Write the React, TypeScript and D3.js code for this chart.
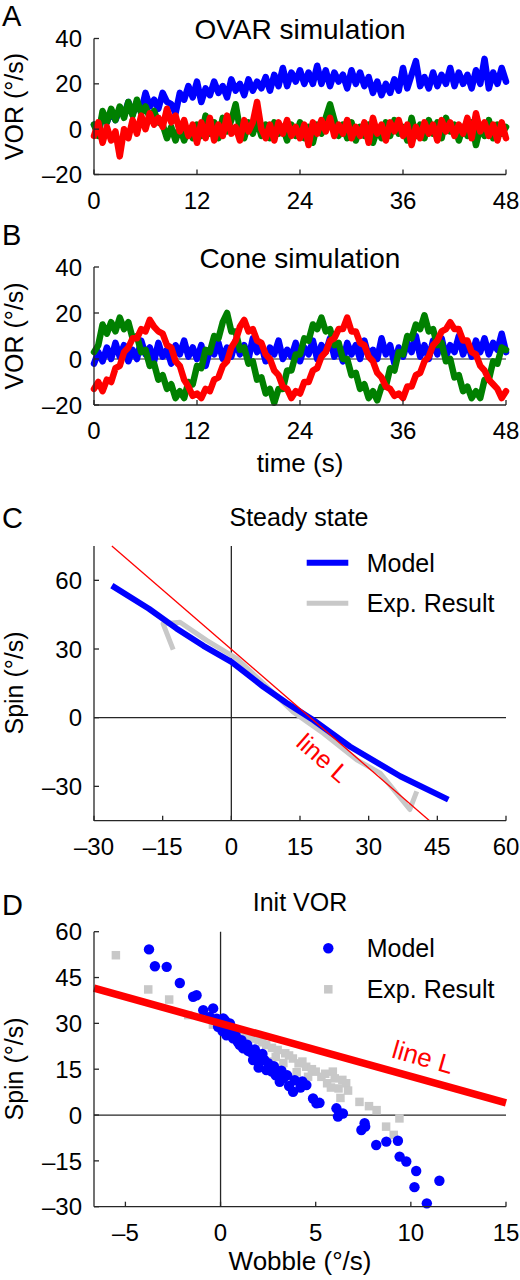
import React from "react";
import * as d3 from "d3";

const FONT = '"Liberation Sans", Arial, Helvetica, sans-serif';
const AXIS = "#262626";
const BLUE = "#0000ff";
const GREEN = "#008000";
const RED = "#ff0000";
const GREY = "#c8c8c8";

// ---------- Panels A & B : time series (one sample every 0.5 s, 0..48 s) ----------
const SAMPLE_STEP = 0.5;
const timeTicks = [0, 12, 24, 36, 48];
const vorTicks = [-20, 0, 20, 40];

const ovarBlue = [
  2, -1, 6, 3, 8, 4, 9, 6, 12, 7,
  10, 8, 16, 10, 13, 9, 16, 12, 11, 7,
  16, 13, 19, 14, 21, 12, 18, 15, 21, 16,
  19, 14, 22, 17, 20, 15, 22, 17, 21, 18,
  23, 17, 24, 19, 27, 19, 25, 21, 26, 20,
  25, 20, 28, 20, 26, 19, 25, 21, 24, 18,
  26, 20, 25, 19, 23, 16, 21, 15, 20, 16,
  22, 17, 27, 18, 24, 30, 19, 23, 18, 25,
  19, 24, 20, 27, 19, 25, 20, 24, 18, 26,
  20, 31, 18, 25, 20, 27, 21,
];
const ovarGreen = [
  2, -3, 8, 3, 9, 4, 10, 5, 12, 6,
  13, 7, 10, 5, 8, 3, 2, -4, 1, -5,
  1, -5, 0, -4, 2, -3, 6, -2, 3, -4,
  5, -1, 4, 11, 0, -4, 3, -2, 4, -3,
  2, -4, 3, -2, 1, -5, 2, -3, 3, -4,
  1, -6, 2, -2, 5, 11, 4, -3, 2, -4,
  3, -5, 1, -3, 2, -6, 0, -4, 3, -3,
  4, -2, 1, -5, 5, -3, 2, -4, 4, -2,
  3, -4, 5, -1, 2, -5, 1, -3, 3, -7,
  1, -3, 4, -4, 2, -2, 1,
];
const ovarRed = [
  -3, 3, -6, 1, -5, -1, -12, 0, -4, 4,
  -2, 6, 0, 7, 2, 5, 1, 9, 3, 6,
  -1, 4, -3, 2, -6, 3, -4, 5, -5, 2,
  -3, 6, -2, 1, -5, 4, -1, 3, 12, 0,
  -4, 2, -5, 3, -2, 4, -3, 1, -4, 2,
  -7, 3, -2, 4, -1, 5, -3, 2, -2, 4,
  -4, 1, -3, 3, -6, 5, -2, 2, -5, 3,
  -1, 4, -3, 2, -7, 1, -4, 3, -2, 2,
  -5, 4, -1, 3, -3, 2, -2, 5, -4, 7,
  -1, 3, -3, 2, -5, 3, -4,
];

const coneBlue = [
  -2, 3, -1, 5, 0, 7, 1, 6, -1, 4,
  0, 8, 2, 5, -1, 7, 1, 4, -2, 6,
  2, 8, 1, 5, 0, 6, -3, 4, 2, 7,
  0, 5, 1, 8, 2, 6, 0, 9, 3, 6,
  -1, 5, 2, 8, 0, 4, 1, 7, -1, 5,
  2, 8, 0, 6, 3, 9, 1, 5, -1, 7,
  2, 6, 0, 8, 1, 4, 0, 9, 2, 6,
  -2, 5, 1, 7, 3, 10, 1, 6, 0, 8,
  2, 9, 1, 6, 3, 10, 2, 7, 1, 8,
  3, 9, 2, 7, 4, 11, 3,
];
const coneGreen = [
  3, 6, 15, 11, 16, 12, 18, 13, 16, 9,
  10, 3, 4, -3, -2, -9, -7, -13, -11, -17,
  -14, -17, -10, -11, -3, -4, 4, 3, 10, 9,
  16, 20, 12, 12, 4, 5, -2, -1, -9, -8,
  -15, -13, -19, -13, -13, -5, -5, 2, 2, 9,
  8, 15, 13, 18, 12, 13, 6, 7, 0, 0,
  -7, -6, -13, -11, -17, -14, -18, -12, -12, -4,
  -5, 3, 2, 10, 9, 15, 13, 19, 12, 13,
  6, 7, -1, 0, -8, -7, -14, -12, -17, -14,
  -17, -9, -9, -1, -2, 5, 4,
];
const coneRed = [
  -13, -10, -14, -9, -10, -4, -3, 3, 5, 9,
  9, 13, 12, 17, 14, 12, 11, 6, 5, -1,
  -3, -9, -12, -16, -15, -17, -13, -14, -9, -8,
  -3, -1, 5, 8, 14, 17, 12, 13, 8, 7,
  2, 0, -5, -7, -12, -13, -17, -14, -15, -10,
  -10, -5, -4, 1, 3, 8, 9, 13, 13, 18,
  12, 12, 7, 6, 1, -1, -6, -8, -12, -13,
  -16, -15, -17, -12, -12, -7, -6, -1, 1, 6,
  8, 12, 13, 16, 13, 13, 8, 8, 3, 2,
  -3, -5, -9, -11, -13, -17, -14,
];

// ---------- Panel C : steady state ----------
const steadyWobbleTicks = [-30, -15, 0, 15, 30, 45, 60];
const steadySpinTicks = [-30, 0, 30, 60];
const steadyModel: [number, number][] = [
  [-26.1, 57.7], [-18, 47.6], [-12, 39], [-6.1, 31.4], [0.1, 24.3], [7, 13.5],
  [12, 6.5], [17.9, -1.0], [25.9, -12.6], [36.9, -25.6], [47.4, -35.8],
];
const steadyExp: [number, number][] = [
  [-12.7, 29.7], [-14.9, 41], [-11.2, 41.7], [-5.4, 33.8], [1.2, 25.8], [7, 15],
  [13.5, 2.5], [20.1, -6.8], [27.4, -18.4], [32.5, -24.2], [39, -40.1], [40.5, -32.2],
];
const steadyLineL: [number, number][] = [[-26.1, 75], [43.3, -45]];

// ---------- Panel D : initial VOR ----------
const initWobbleTicks = [-5, 0, 5, 10, 15];
const initSpinTicks = [-30, -15, 0, 15, 30, 45, 60];
const initModel: [number, number][] = [
  [-3.76, 54.2], [-3.45, 48.7], [-2.83, 48.5], [-2.14, 43.2], [-1.44, 38.7], [-1.26, 39.2],
  [-0.91, 34.3], [-0.39, 34.9], [-0.56, 32.1], [0.14, 31.6], [0.49, 30.0], [-0.13, 28.9],
  [0.49, 29.4], [0.23, 31.0], [0.31, 26.1], [0.66, 25.1], [0.9, 24.0], [1.19, 21.8],
  [1.45, 21.0], [1.71, 18.0], [2.06, 19.6], [2.3, 18.0], [2.41, 14.7], [2.7, 14.2],
  [3.11, 10.9], [3.9, 11.4], [3.81, 7.6], [4.51, 9.8], [4.86, 5.4], [5.04, 3.8],
  [6.09, 2.2], [6.17, -0.5], [6.43, 0.5], [7.4, -4.9], [7.57, -2.7], [7.6, -3.8],
  [8.18, -9.8], [8.71, -8.7], [9.32, -8.4], [9.41, -13.6], [9.76, -15.2], [10.28, -18.3],
  [10.19, -23.6], [10.84, -28.9], [11.5, -21.5], [1.0, 23.0], [1.6, 20.5], [2.9, 13.0],
  [3.3, 12.0], [1.3, 22.5], [2.0, 17.0], [0.1, 27.5], [0.5, 27.0], [0.8, 26.0],
  [1.1, 24.5], [1.4, 23.0], [1.8, 21.5], [2.2, 20.0], [2.5, 17.0], [2.8, 16.0],
  [3.2, 14.5], [3.5, 13.0], [4.2, 9.0], [4.3, 11.0], [5.2, 4.0], [0.0, 30.5],
  [-0.2, 31.5], [0.7, 28.0], [2.0, 15.5], [3.6, 9.5],
];
const initExp: [number, number][] = [
  [-5.5, 52.3], [-3.8, 41.1], [-2.7, 37.8], [-1.7, 32.7], [-0.4, 29.6], [0.1, 28.5],
  [0.7, 27], [1.4, 25.6], [2.0, 24.5], [2.4, 22.9], [3.0, 21.3], [3.4, 20.2],
  [3.8, 18.5], [4.1, 16.9], [4.5, 15.8], [5.0, 14.2], [5.3, 12.5], [5.6, 10.4],
  [5.9, 14.2], [6.2, 8.7], [6.6, 10.4], [6.3, 5.6], [2.6, 17.5], [3.2, 15.5],
  [7.3, 4.3], [7.8, 2.9], [8.2, 1.6], [9.4, -1.1], [8.7, -3.8], [9.1, -6.5],
  [1.9, 19], [4.6, 12.5], [0.3, 28], [1.0, 26.5], [1.7, 25], [2.2, 23.8],
  [2.7, 22], [3.6, 19.5], [4.3, 17.5], [4.8, 15], [5.5, 13.5], [6.0, 12],
  [6.4, 11.5], [5.8, 9], [6.7, 8], [3.3, 17], [4.0, 14], [2.9, 19],
];
const initLineL: [number, number][] = [[-6.65, 41.5], [15, 4]];

const fmt = (v: number) => (v < 0 ? "\u2013" + Math.abs(v) : String(v));

type Scale = d3.ScaleLinear<number, number>;

function Axes({ x, y, xTicks, yTicks }: { x: Scale; y: Scale; xTicks: number[]; yTicks: number[] }) {
  const [x0, x1] = x.range();
  const [yb, yt] = y.range();
  return (
    <g>
      <line x1={x0} x2={x1} y1={yb} y2={yb} stroke={AXIS} strokeWidth={1.3} />
      <line x1={x0} x2={x0} y1={yb} y2={yt} stroke={AXIS} strokeWidth={1.3} />
      {xTicks.map((t) => (
        <g key={"x" + t}>
          <line x1={x(t)} x2={x(t)} y1={yb} y2={yb - 5} stroke={AXIS} strokeWidth={1.3} />
          <text x={x(t)} y={yb + 34} textAnchor="middle" fontSize={24} fontFamily={FONT}>
            {fmt(t)}
          </text>
        </g>
      ))}
      {yTicks.map((t) => (
        <g key={"y" + t}>
          <line x1={x0} x2={x0 + 5} y1={y(t)} y2={y(t)} stroke={AXIS} strokeWidth={1.3} />
          <text x={x0 - 12} y={y(t)} dy="0.36em" textAnchor="end" fontSize={24} fontFamily={FONT}>
            {fmt(t)}
          </text>
        </g>
      ))}
    </g>
  );
}

function YLabel({ text, cy }: { text: string; cy: number }) {
  return (
    <text
      transform={`translate(23,${cy}) rotate(-90)`}
      textAnchor="middle"
      fontSize={25}
      fontFamily={FONT}
    >
      {text}
    </text>
  );
}

function Letter({ text, y }: { text: string; y: number }) {
  return (
    <text x={2} y={y} fontSize={29} fontFamily={FONT}>
      {text}
    </text>
  );
}

function TimePanel({
  top, bottom, title, blue, green, red, zeroLine,
}: {
  top: number; bottom: number; title: string; blue: number[]; green: number[]; red: number[]; zeroLine: boolean;
}) {
  const x = d3.scaleLinear().domain([0, 48]).range([94, 506]);
  const y = d3.scaleLinear().domain([-20, 40]).range([bottom, top]);
  const line = d3
    .line<number>()
    .x((_, i) => x(i * SAMPLE_STEP))
    .y((v) => y(v));
  const style = { fill: "none", strokeWidth: 6.5, strokeLinejoin: "round" as const, strokeLinecap: "round" as const };
  return (
    <g>
      <text x={300} y={top + 0.5} textAnchor="middle" fontSize={28} fontFamily={FONT}>
        {title}
      </text>
      {zeroLine && <line x1={94} x2={506} y1={y(0)} y2={y(0)} stroke={AXIS} strokeWidth={1.2} />}
      <path d={line(blue) || ""} stroke={BLUE} {...style} />
      <path d={line(green) || ""} stroke={GREEN} {...style} />
      <path d={line(red) || ""} stroke={RED} {...style} />
      <Axes x={x} y={y} xTicks={timeTicks} yTicks={vorTicks} />
      <YLabel text="VOR (°/s)" cy={(top + bottom) / 2} />
    </g>
  );
}

function SteadyPanel() {
  const x = d3.scaleLinear().domain([-30, 60]).range([94, 506]);
  const y = d3.scaleLinear().domain([-45, 75]).range([820.7, 546]);
  const line = d3
    .line<[number, number]>()
    .x((d) => x(d[0]))
    .y((d) => y(d[1]));
  return (
    <g>
      <text x={299} y={526} textAnchor="middle" fontSize={25} fontFamily={FONT}>
        Steady state
      </text>
      <line x1={x(0)} x2={x(0)} y1={y(-45)} y2={y(75)} stroke={AXIS} strokeWidth={1.3} />
      <line x1={x(-30)} x2={x(60)} y1={y(0)} y2={y(0)} stroke={AXIS} strokeWidth={1.3} />
      <path d={line(steadyExp) || ""} stroke={GREY} strokeWidth={5} fill="none" strokeLinejoin="round" />
      <path d={line(steadyModel) || ""} stroke={BLUE} strokeWidth={6} fill="none" strokeLinejoin="round" />
      <path d={line(steadyLineL) || ""} stroke={RED} strokeWidth={1.3} fill="none" />
      <Axes x={x} y={y} xTicks={steadyWobbleTicks} yTicks={steadySpinTicks} />
      <YLabel text="Spin (°/s)" cy={683} />
      <text
        transform={`translate(323,758) rotate(41)`}
        textAnchor="middle"
        dy="0.35em"
        fill={RED}
        fontSize={25}
        fontFamily={FONT}
      >
        line L
      </text>
      <line x1={306.7} x2={348.3} y1={562.7} y2={562.7} stroke={BLUE} strokeWidth={6} />
      <text x={366.7} y={562.7} dy="0.36em" fontSize={25} fontFamily={FONT}>
        Model
      </text>
      <line x1={306.7} x2={348.3} y1={603.3} y2={603.3} stroke={GREY} strokeWidth={5} />
      <text x={366.7} y={603.3} dy="0.36em" fontSize={25} fontFamily={FONT}>
        Exp. Result
      </text>
    </g>
  );
}

function InitPanel() {
  const x = d3.scaleLinear().domain([-6.65, 15]).range([94, 506]);
  const y = d3.scaleLinear().domain([-30, 60]).range([1206.7, 931.7]);
  const line = d3
    .line<[number, number]>()
    .x((d) => x(d[0]))
    .y((d) => y(d[1]));
  const sq = 8.5;
  return (
    <g>
      <text x={300} y={911} textAnchor="middle" fontSize={25} fontFamily={FONT}>
        Init VOR
      </text>
      <line x1={x(0)} x2={x(0)} y1={y(-30)} y2={y(60)} stroke={AXIS} strokeWidth={1.3} />
      <line x1={94} x2={506} y1={y(0)} y2={y(0)} stroke={AXIS} strokeWidth={1.3} />
      {initExp.map((d, i) => (
        <rect key={"e" + i} x={x(d[0]) - sq / 2} y={y(d[1]) - sq / 2} width={sq} height={sq} fill={GREY} />
      ))}
      {initModel.map((d, i) => (
        <circle key={"m" + i} cx={x(d[0])} cy={y(d[1])} r={5.2} fill={BLUE} />
      ))}
      <path d={line(initLineL) || ""} stroke={RED} strokeWidth={7.5} fill="none" />
      <Axes x={x} y={y} xTicks={initWobbleTicks} yTicks={initSpinTicks} />
      <YLabel text="Spin (°/s)" cy={1069} />
      <text x={300} y={1269.5} textAnchor="middle" fontSize={26} fontFamily={FONT}>
        Wobble (°/s)
      </text>
      <text
        transform={`translate(423,1057) rotate(16)`}
        textAnchor="middle"
        dy="0.35em"
        fill={RED}
        fontSize={26}
        fontFamily={FONT}
      >
        line L
      </text>
      <circle cx={328.3} cy={948.3} r={5.2} fill={BLUE} />
      <text x={366.7} y={948.3} dy="0.36em" fontSize={25} fontFamily={FONT}>
        Model
      </text>
      <rect x={328.3 - sq / 2} y={989.3 - sq / 2} width={sq} height={sq} fill={GREY} />
      <text x={366.7} y={989.3} dy="0.36em" fontSize={25} fontFamily={FONT}>
        Exp. Result
      </text>
    </g>
  );
}

export default function App() {
  return (
    <svg
      width={520}
      height={1280}
      viewBox="0 0 520 1280"
      style={{ position: "absolute", left: 0, top: 0, background: "#fff" }}
    >
      <rect width={520} height={1280} fill="#fff" />
      <Letter text="A" y={26} />
      <TimePanel top={38.5} bottom={174.5} title="OVAR simulation" blue={ovarBlue} green={ovarGreen} red={ovarRed} zeroLine={false} />
      <Letter text="B" y={245} />
      <TimePanel top={267} bottom={405} title="Cone simulation" blue={coneBlue} green={coneGreen} red={coneRed} zeroLine={true} />
      <text x={300} y={472} textAnchor="middle" fontSize={26} fontFamily={FONT}>
        time (s)
      </text>
      <Letter text="C" y={528} />
      <SteadyPanel />
      <Letter text="D" y={915} />
      <InitPanel />
    </svg>
  );
}
